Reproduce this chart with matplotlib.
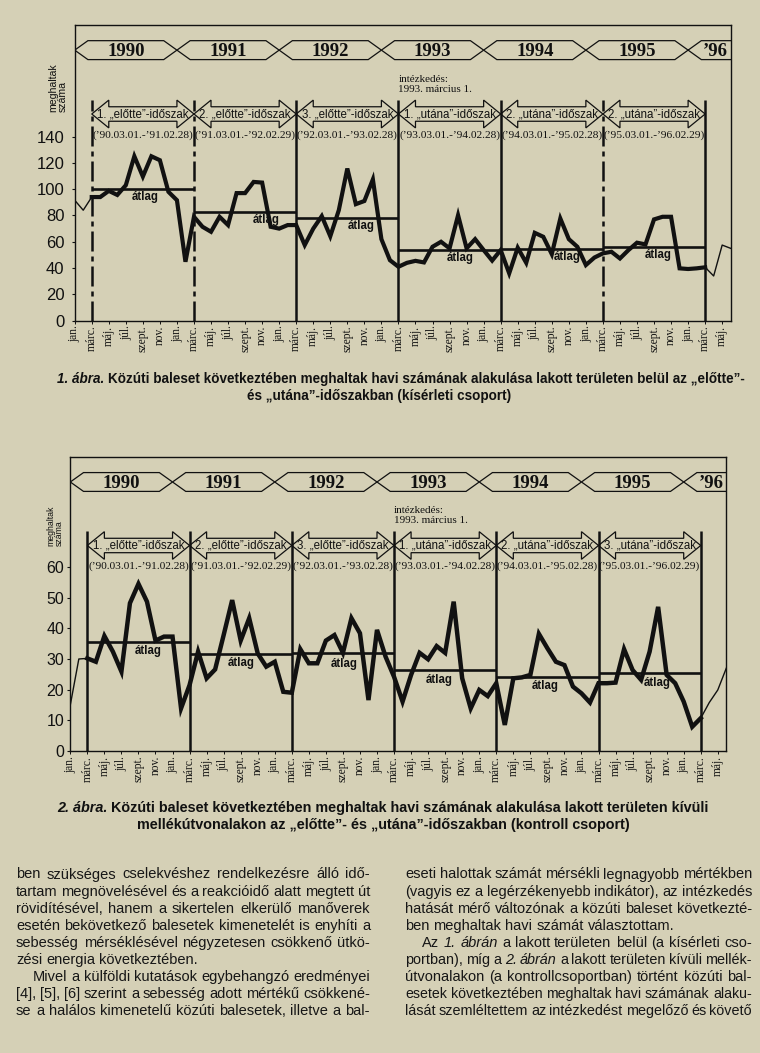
import matplotlib
matplotlib.use('Agg')
import matplotlib.pyplot as plt
from matplotlib.patches import Polygon
from matplotlib import font_manager

# ---------------- data ----------------
month_labels = ['jan.', 'márc.', 'máj.', 'júl.', 'szept.', 'nov.'] * 6 + ['jan.', 'márc.', 'máj.']
year_labels = ['1990', '1991', '1992', '1993', '1994', '1995', '’96']
period_dates = ['(’90.03.01.-’91.02.28)', '(’91.03.01.-’92.02.29)', '(’92.03.01.-’93.02.28)',
                '(’93.03.01.-’94.02.28)', '(’94.03.01.-’95.02.28)', '(’95.03.01.-’96.02.29)']
periods1 = ['1. „előtte”-időszak', '2. „előtte”-időszak', '3. „előtte”-időszak',
            '1. „utána”-időszak', '2. „utána”-időszak', '2. „utána”-időszak']
periods2 = ['1. „előtte”-időszak', '2. „előtte”-időszak', '3. „előtte”-időszak',
            '1. „utána”-időszak', '2. „utána”-időszak', '3. „utána”-időszak']
measure_note = 'intézkedés:\n1993. március 1.'

# monthly deaths, Jan 1990 ... Jun 1996 (index 0 = jan 1990)
deaths1 = [91.6, 84, 94, 94, 98.7, 95.6, 103, 125, 109.6, 125, 122, 98,
           91.6, 44.8, 79, 71.4, 67.6, 79, 72.7, 97, 97, 105.5, 105, 71.4,
           70, 72.7, 72.7, 57.5, 70, 79.5, 64.2, 84, 115.7, 88.6, 91, 107.4,
           62, 46, 41, 44, 45.5, 44.3, 56.2, 60, 55, 80.2, 55, 62,
           53.7, 45.7, 53.7, 36, 55.5, 44, 66.8, 63.8, 50.6, 77.7, 62, 56.2,
           42.3, 48, 51.2, 52.4, 47.3, 53.7, 59.3, 58, 77, 79, 79, 39.8,
           39.3, 39.8, 40.6, 34, 57.5, 55]
avg1 = [100.0, 82.5, 78.2, 53.7, 54.7, 56.2]

deaths2 = [15, 30, 30.2, 29.1, 37.5, 32.4, 25.9, 48.2, 54.5, 48.7, 36, 37.3,
           37.3, 13.9, 21.5, 32.4, 23.7, 26.6, 37.8, 49.2, 36, 43.3, 31.8, 27.5,
           29.1, 19.3, 19, 33.2, 28.6, 28.6, 36, 37.8, 32, 43.3, 38.4, 16.6,
           39.5, 30.8, 24.2, 16.1, 24.8, 32, 29.9, 34.2, 32, 48.7, 23.7, 13.9,
           19.9, 17.9, 22.1, 8.5, 23.7, 24, 24.8, 38.2, 33.5, 29.1, 28, 21,
           18.8, 15.8, 22.1, 22.1, 22.3, 33.2, 26.4, 23.2, 32.4, 47, 24.8, 22.1,
           16.1, 7.9, 10.7, 15.8, 19.9, 27]
avg2 = [35.7, 31.5, 31.8, 26.4, 24.0, 25.3]

caption1 = ('1. ábra.', 'Közúti baleset következtében meghaltak havi számának alakulása lakott területen belül az „előtte”-',
            'és „utána”-időszakban (kísérleti csoport)')
caption2 = ('2. ábra.', 'Közúti baleset következtében meghaltak havi számának alakulása lakott területen kívüli',
            'mellékútvonalakon az „előtte”- és „utána”-időszakban (kontroll csoport)')

left_col = [
    ('ben szükséges cselekvéshez rendelkezésre álló idő-', 'j'),
    ('tartam megnövelésével és a reakcióidő alatt megtett út', 'j'),
    ('rövidítésével, hanem a sikertelen elkerülő manőverek', 'j'),
    ('esetén bekövetkező balesetek kimenetelét is enyhíti a', 'j'),
    ('sebesség mérséklésével négyzetesen csökkenő ütkö-', 'j'),
    ('zési energia következtében.', 'l'),
    ('Mivel a külföldi kutatások egybehangzó eredményei', 'ij'),
    ('[4], [5], [6] szerint a sebesség adott mértékű csökkené-', 'j'),
    ('se a halálos kimenetelű közúti balesetek, illetve a bal-', 'j'),
]
right_col = [
    ('eseti halottak számát mérsékli legnagyobb mértékben', 'j'),
    ('(vagyis ez a legérzékenyebb indikátor), az intézkedés', 'j'),
    ('hatását mérő változónak a közúti baleset következté-', 'j'),
    ('ben meghaltak havi számát választottam.', 'l'),
    ('Az *1.* *ábrán* a lakott területen belül (a kísérleti cso-', 'ij'),
    ('portban), míg a *2.* *ábrán* a lakott területen kívüli mellék-', 'j'),
    ('útvonalakon (a kontrollcsoportban) történt közúti bal-', 'j'),
    ('esetek következtében meghaltak havi számának alaku-', 'j'),
    ('lását szemléltettem az intézkedést megelőző és követő', 'j'),
]

# ---------------- style ----------------
W, H, DPI = 760, 1053, 100
BG = '#d5d0b6'
INK = '#111111'
avail = {f.name for f in font_manager.fontManager.ttflist}
SANS = 'Liberation Sans' if 'Liberation Sans' in avail else 'DejaVu Sans'
NARROW = 'Liberation Sans Narrow' if 'Liberation Sans Narrow' in avail else SANS
SERIF = 'Liberation Serif' if 'Liberation Serif' in avail else 'DejaVu Serif'

fig = plt.figure(figsize=(W / DPI, H / DPI), dpi=DPI, facecolor=BG)
renderer = fig.canvas.get_renderer()

YT, YB = 0.947, 0.883
YM = (YT + YB) / 2
AM, AH, AS = 0.699, 0.047, 0.0245
DATE_Y = 0.628
LINE_TOP = 0.748
NOTE_Y = 0.80


def px_rect(l, t, r, b):
    return [l / W, 1 - b / H, (r - l) / W, (b - t) / H]


def draw_chart(rect, values, avgs, pnames, ymax, yticks, ytick_fs, ypad,
               atlag_dx, atlag_off, dashed, ylab_xy, ylab_fs, thick_lw):
    ax = fig.add_axes(rect)
    ax.set_facecolor('none')
    ax.set_xlim(0, 77)
    ax.set_ylim(0, ymax)
    tr = ax.get_xaxis_transform()
    for s in ax.spines.values():
        s.set_linewidth(1.0)
        s.set_color(INK)

    # year band
    d = 1.55
    for k, lab in enumerate(year_labels):
        x0, x1 = 12 * k, 12 * k + 12
        pts = [(x0, YM), (x0 + d, YT), (x1 - d, YT), (x1, YM), (x1 - d, YB), (x0 + d, YB)]
        ax.add_patch(Polygon(pts, closed=True, fill=False, ec=INK, lw=0.9, transform=tr))
        xc = (x0 + x1) / 2 if k < 6 else 75.2
        ax.text(xc, YM - 0.004, lab, transform=tr, ha='center', va='center',
                family=SERIF, fontweight='bold', fontsize=13.5, color=INK)

    # period arrows
    h = 2.0
    for k, name in enumerate(pnames):
        s, e = 2 + 12 * k, 14 + 12 * k
        pts = [(s, AM), (s + h, AM + AH), (s + h, AM + AS), (e - h, AM + AS), (e - h, AM + AH),
               (e, AM), (e - h, AM - AH), (e - h, AM - AS), (s + h, AM - AS), (s + h, AM - AH)]
        ax.add_patch(Polygon(pts, closed=True, fill=False, ec=INK, lw=0.9, transform=tr))
        ax.text((s + e) / 2, AM, name, transform=tr, ha='center', va='center',
                family=SANS, fontsize=8.3, color=INK)
        ax.text((s + e) / 2, DATE_Y, period_dates[k], transform=tr, ha='center', va='center',
                family=SERIF, fontsize=8.2, color=INK)

    # period dividers
    for k in range(7):
        x = 2 + 12 * k
        ls = (0, (8, 2, 2, 2)) if k in dashed else '-'
        ax.plot([x, x], [0, LINE_TOP], transform=tr, color=INK, lw=1.8, ls=ls,
                solid_capstyle='butt')

    ax.text(38.0, NOTE_Y, measure_note, transform=tr, ha='left', va='center',
            family=SERIF, fontsize=8, color=INK, linespacing=1.15)

    # data
    months = list(range(len(values)))
    ax.plot(months[:3], values[:3], color=INK, lw=1.0)
    ax.plot(months[2:75], values[2:75], color=INK, lw=thick_lw, solid_joinstyle='miter')
    ax.plot(months[74:], values[74:], color=INK, lw=1.0)

    for k, a in enumerate(avgs):
        s, e = 2 + 12 * k, 14 + 12 * k
        ax.plot([s, e], [a, a], color=INK, lw=1.9, solid_capstyle='butt')
        ax.annotate('átlag', ((s + e) / 2 + atlag_dx[k], a), xytext=(0, -atlag_off[k]),
                    textcoords='offset pixels', ha='center', va='center',
                    family=SANS, fontweight='bold', fontsize=8.3, color=INK)

    ax.set_yticks(yticks)
    ax.set_yticklabels([str(t) for t in yticks], family=SANS, fontsize=ytick_fs, color=INK)
    ax.tick_params(axis='y', length=2.5, width=0.8, pad=ypad, color=INK)
    ax.set_xticks(list(range(0, 77, 2)))
    ax.set_xticklabels(month_labels, rotation=90, family=SERIF, fontsize=8.3, color=INK)
    ax.tick_params(axis='x', length=2, width=0.7, pad=1.5, color=INK)

    fig.text(ylab_xy[0] / W, 1 - ylab_xy[1] / H, 'meghaltak\nszáma', rotation=90,
             ha='center', va='center', multialignment='left', family=SANS,
             fontsize=ylab_fs, color=INK, linespacing=1.0)
    return ax


draw_chart(px_rect(74.7, 25, 730.7, 320.7), deaths1, avg1, periods1, 224.8,
           list(range(0, 141, 20)), 12, 4.8,
           [0.3, 2.5, 1.6, 1.2, 1.8, 0.5], [8, 8, 8, 8, 8, 8], {0, 1, 5},
           (58, 88), 7.6, 3.0)
draw_chart(px_rect(70.3, 457, 726.3, 751), deaths2, avg2, periods2, 95.86,
           list(range(0, 61, 10)), 11.5, 1.8,
           [1.2, 0.0, 0.1, -0.7, -0.3, 0.9], [9, 9, 11, 10, 9, 10], set(),
           (55, 526), 6.3, 3.2)


# ---------------- captions ----------------
def text_w(s, **kw):
    t = fig.text(0, 0, s, **kw)
    w = t.get_window_extent(renderer).width
    t.remove()
    return w


def caption(cap, x0, x1, base1, base2, xc2):
    head, rest1, line2 = cap
    kw_h = dict(family=NARROW, fontweight='bold', style='italic')
    kw_b = dict(family=NARROW, fontweight='bold')
    tot = text_w(head + ' ', fontsize=10, **kw_h) + text_w(rest1, fontsize=10, **kw_b)
    fs = 10 * (x1 - x0) / tot
    wh = text_w(head + ' ', fontsize=fs, **kw_h)
    fig.text(x0 / W, 1 - base1 / H, head, fontsize=fs, va='baseline', ha='left', color=INK, **kw_h)
    fig.text((x0 + wh) / W, 1 - base1 / H, rest1, fontsize=fs, va='baseline', ha='left', color=INK, **kw_b)
    fig.text(xc2 / W, 1 - base2 / H, line2, fontsize=fs, va='baseline', ha='center', color=INK, **kw_b)


caption(caption1, 57, 744, 383, 400, 379)
caption(caption2, 57, 710, 812, 829, 383)


# ---------------- body text ----------------
BODY_FS = 10.5
space_w = text_w('a a', fontsize=BODY_FS, family=SANS) - text_w('aa', fontsize=BODY_FS, family=SANS)
cols = [(left_col, 16, 370), (right_col, 405, 752)]

for col, x0, x1 in cols:
    for i, (line, mode) in enumerate(col):
        yb = 878.5 + 17.1 * i
        words = line.split(' ')
        start = x0 + (17 if mode == 'ij' else 0)
        fs = BODY_FS
        for _ in range(10):
            arts, widths = [], []
            for w in words:
                it = w.startswith('*')
                t = fig.text(0, 1 - yb / H, w.strip('*'), fontsize=fs, family=SANS,
                             style='italic' if it else 'normal', va='baseline', ha='left',
                             color='#161616')
                arts.append(t)
                widths.append(t.get_window_extent(renderer).width)
            if mode == 'l' or len(words) == 1:
                gap = space_w
                break
            gap = (x1 - start - sum(widths)) / (len(words) - 1)
            if gap >= 0.7 * space_w:
                break
            for t in arts:
                t.remove()
            fs *= 0.985
        x = start
        for t, w in zip(arts, widths):
            t.set_x(x / W)
            x += w + gap

fig.savefig('out.png', dpi=DPI, facecolor=BG)
